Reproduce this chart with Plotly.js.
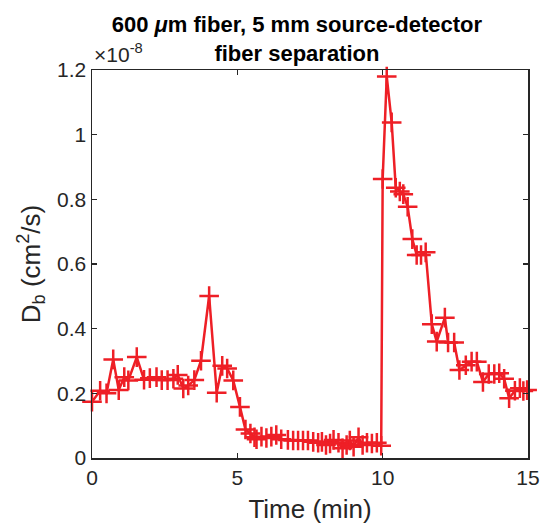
<!DOCTYPE html>
<html>
<head>
<meta charset="utf-8">
<script src="https://cdn.plot.ly/plotly-3.0.1.min.js"></script>
<style>html,body{margin:0;padding:0;background:#fff;}#chart{width:541px;height:532px;}</style>
</head>
<body>
<div id="chart"></div>
<script>
// Time in minutes
var timeMin = [
  0.00, 0.28, 0.50, 0.73, 0.92, 1.11, 1.25, 1.54, 1.79, 1.99, 2.22, 2.40, 2.60, 2.80, 2.95, 3.14, 3.31, 3.52, 3.75, 4.03,
  4.29, 4.48, 4.65, 4.86, 5.09, 5.28, 5.45, 5.59, 5.66, 5.83, 6.00, 6.17, 6.34, 6.51, 6.74, 6.92, 7.09, 7.26, 7.43, 7.61,
  7.78, 7.91, 8.05, 8.19, 8.31, 8.48, 8.62, 8.76, 8.87, 9.00, 9.17, 9.31, 9.46, 9.63, 9.80, 9.95,
  10.00, 10.14, 10.31, 10.45, 10.59, 10.71, 10.86, 11.02, 11.17, 11.32, 11.48, 11.69, 11.86, 12.14, 12.25, 12.46,
  12.64, 12.86, 13.06, 13.24, 13.45, 13.65, 13.84, 14.01, 14.18, 14.35, 14.55, 14.72, 14.84, 14.97
];
// Blood flow index D_b in units of 1e-8 cm^2/s
var dbValues = [
  0.174, 0.208, 0.200, 0.305, 0.210, 0.250, 0.240, 0.312, 0.242, 0.247, 0.250, 0.241, 0.241, 0.245, 0.257, 0.215, 0.224, 0.241, 0.301, 0.501,
  0.202, 0.285, 0.277, 0.240, 0.158, 0.088, 0.076, 0.064, 0.058, 0.066, 0.062, 0.066, 0.071, 0.058, 0.056, 0.054, 0.054, 0.054, 0.054, 0.050,
  0.047, 0.050, 0.040, 0.045, 0.056, 0.047, 0.030, 0.040, 0.054, 0.035, 0.064, 0.040, 0.047, 0.045, 0.047, 0.038,
  0.863, 1.180, 1.038, 0.836, 0.824, 0.816, 0.777, 0.677, 0.628, 0.628, 0.636, 0.414, 0.360, 0.434, 0.357, 0.357,
  0.272, 0.287, 0.298, 0.298, 0.235, 0.260, 0.260, 0.262, 0.245, 0.185, 0.208, 0.216, 0.207, 0.210
];
var xTickVals = [0, 5, 10, 15];
var xTickText = ['0', '5', '10', '15'];
var yTickVals = [0, 0.2, 0.4, 0.6, 0.8, 1.0, 1.2];
var yTickText = ['0', '0.2', '0.4', '0.6', '0.8', '1', '1.2'];

var red = '#EE1F26';
var axisColor = '#262626';
var fontFam = 'Liberation Sans, Arial, sans-serif';

var trace = {
  x: timeMin,
  y: dbValues,
  type: 'scatter',
  mode: 'lines+markers',
  line: {color: red, width: 2.5},
  marker: {symbol: 'cross-thin-open', size: 14, color: red, line: {color: red, width: 2.5}},
  cliponaxis: false,
  showlegend: false
};

var layout = {
  width: 541, height: 532,
  margin: {l: 92, r: 13, t: 70, b: 74},
  paper_bgcolor: '#fff', plot_bgcolor: '#fff',
  font: {family: fontFam, color: axisColor, size: 21},
  title: {
    text: '<b>600 <i>μ</i>m fiber, 5 mm source-detector<br>fiber separation</b>',
    xref: 'paper', x: 0.47, xanchor: 'center',
    yref: 'paper', y: 1, yanchor: 'bottom', pad: {b: 38},
    font: {family: fontFam, size: 22, color: '#000'}
  },
  xaxis: {
    range: [0, 15], tickvals: xTickVals, ticktext: xTickText,
    ticks: 'inside', ticklen: 5, tickwidth: 1.3, tickcolor: axisColor,
    showline: true, linecolor: axisColor, linewidth: 1.5, mirror: 'ticks',
    showgrid: false, zeroline: false,
    tickfont: {size: 21, color: axisColor, family: fontFam},
    title: {text: 'Time (min)', font: {size: 26, color: axisColor, family: fontFam}, standoff: 12}
  },
  yaxis: {
    range: [0, 1.2], tickvals: yTickVals, ticktext: yTickText,
    ticks: 'inside', ticklen: 5, tickwidth: 1.3, tickcolor: axisColor,
    showline: true, linecolor: axisColor, linewidth: 1.5, mirror: 'ticks',
    showgrid: false, zeroline: false,
    tickfont: {size: 21, color: axisColor, family: fontFam},
    title: {text: 'D<sub>b</sub> (cm<sup>2</sup>/s)', font: {size: 26, color: axisColor, family: fontFam}, standoff: 9}
  },
  annotations: [{
    text: '×10<sup>-8</sup>', xref: 'paper', yref: 'paper', x: 0, y: 1, xanchor: 'left', yanchor: 'bottom',
    showarrow: false, font: {size: 21, color: axisColor, family: fontFam}, yshift: 2
  }]
};

Plotly.newPlot('chart', [trace], layout, {displayModeBar: false, staticPlot: true});
</script>
</body>
</html>
